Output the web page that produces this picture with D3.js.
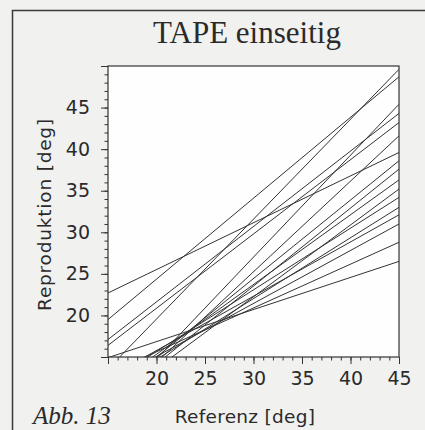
<!DOCTYPE html>
<html>
<head>
<meta charset="utf-8">
<script src="https://cdn.jsdelivr.net/npm/d3@7"></script>
<style>
  html, body { margin: 0; padding: 0; background: #f1f1ef; }
  svg { display: block; }
</style>
</head>
<body>
<svg id="chart" width="425" height="430"></svg>
<script>
// Regression lines: reproduction value at Referenz = 15 and at Referenz = 45
const lineIds  = ["A","B","C","D","E","F","G","H","I","J","K","L","M","N","O","P","Q"];
const repAt15  = [22.7, 19.5, 17.1, 16.4, 14.92, 13.56, 8.63, 8.90, 10.28, 9.47, 11.14, 9.30, 11.96, 11.05, 12.52, 11.88, 13.0];
const repAt45  = [39.6, 48.7, 44.3, 43.2, 26.5, 49.6, 45.4, 41.6, 38.6, 37.6, 36.3, 35.2, 34.2, 33.0, 32.1, 31.0, 28.8];
const refRange = [15, 45];

const xMajorTicks = [15, 20, 25, 30, 35, 40, 45];
const yMajorTicks = [15, 20, 25, 30, 35, 40, 45, 50];
const xLabelTicks = [20, 25, 30, 35, 40, 45];
const yLabelTicks = [20, 25, 30, 35, 40, 45];

const titleText = "TAPE einseitig";
const xTitle = "Referenz [deg]";
const yTitle = "Reproduktion [deg]";
const figLabel = "Abb. 13";

const svg = d3.select("#chart");
const L = 108, R = 399, T = 66, B = 357;
const x = d3.scaleLinear().domain([15, 45]).range([L, R]);
const y = d3.scaleLinear().domain([15, 50]).range([B, T]);

// outer figure frame (top and left visible)
svg.append("path")
  .attr("d", `M12.5,430 L12.5,10.5 L425,10.5`)
  .attr("fill", "none").attr("stroke", "#3a3a3a").attr("stroke-width", 1.5);

// plot background
svg.append("rect").attr("x", L).attr("y", T).attr("width", R - L).attr("height", B - T)
  .attr("fill", "#fefefe");

svg.append("defs").append("clipPath").attr("id", "clip")
  .append("rect").attr("x", L).attr("y", T).attr("width", R - L).attr("height", B - T);

const data = lineIds.map((id, i) => ({ id, pts: [[refRange[0], repAt15[i]], [refRange[1], repAt45[i]]] }));
const lineGen = d3.line().x(d => x(d[0])).y(d => y(d[1]));
svg.append("g").attr("clip-path", "url(#clip)")
  .selectAll("path").data(data).join("path")
  .attr("d", d => lineGen(d.pts))
  .attr("fill", "none").attr("stroke", "#333").attr("stroke-width", 1);

const font = "'DejaVu Sans', sans-serif";

// minor ticks
const xMinor = d3.axisBottom(x).tickValues(d3.range(15, 46, 1)).tickSize(3.5).tickFormat("").tickSizeOuter(0);
const yMinor = d3.axisLeft(y).tickValues(d3.range(15, 51, 1)).tickSize(3.5).tickFormat("").tickSizeOuter(0);
const xMajor = d3.axisBottom(x).tickValues(xMajorTicks).tickSize(7).tickPadding(8).tickSizeOuter(0)
  .tickFormat(d => xLabelTicks.includes(d) ? d : "");
const yMajor = d3.axisLeft(y).tickValues(yMajorTicks).tickSize(7).tickPadding(11).tickSizeOuter(0)
  .tickFormat(d => yLabelTicks.includes(d) ? d : "");

function styleAxis(g) {
  g.select(".domain").remove();
  g.selectAll("line").attr("stroke", "#333").attr("stroke-width", 1);
  g.selectAll("text").attr("fill", "#2a2a2a").style("font-family", font).style("font-size", "19px");
}
svg.append("g").attr("transform", `translate(0,${B})`).call(xMinor).call(styleAxis);
svg.append("g").attr("transform", `translate(${L},0)`).call(yMinor).call(styleAxis);
svg.append("g").attr("transform", `translate(0,${B})`).call(xMajor).call(styleAxis);
svg.append("g").attr("transform", `translate(${L},0)`).call(yMajor).call(styleAxis);

// plot frame
svg.append("rect").attr("x", L).attr("y", T).attr("width", R - L).attr("height", B - T)
  .attr("fill", "none").attr("stroke", "#333").attr("stroke-width", 1.2);

// title
svg.append("text").attr("x", 247).attr("y", 43).attr("text-anchor", "middle")
  .style("font-family", "'Liberation Serif', 'Times New Roman', serif").style("font-size", "31px")
  .attr("fill", "#2a2a2a").text(titleText);

// axis titles
svg.append("text").attr("x", 245).attr("y", 423).attr("text-anchor", "middle")
  .style("font-family", font).style("font-size", "18.5px").style("letter-spacing", "0.3px")
  .attr("fill", "#2a2a2a").text(xTitle);
svg.append("text").attr("transform", `translate(51,${(T + B) / 2 + 3}) rotate(-90)`).attr("text-anchor", "middle")
  .style("font-family", font).style("font-size", "18.5px").style("letter-spacing", "0.8px")
  .attr("fill", "#2a2a2a").text(yTitle);

// figure label
svg.append("text").attr("x", 33).attr("y", 424)
  .style("font-family", "'Liberation Serif', 'Times New Roman', serif").style("font-style", "italic")
  .style("font-size", "25px").attr("fill", "#2a2a2a").text(figLabel);
</script>
</body>
</html>
